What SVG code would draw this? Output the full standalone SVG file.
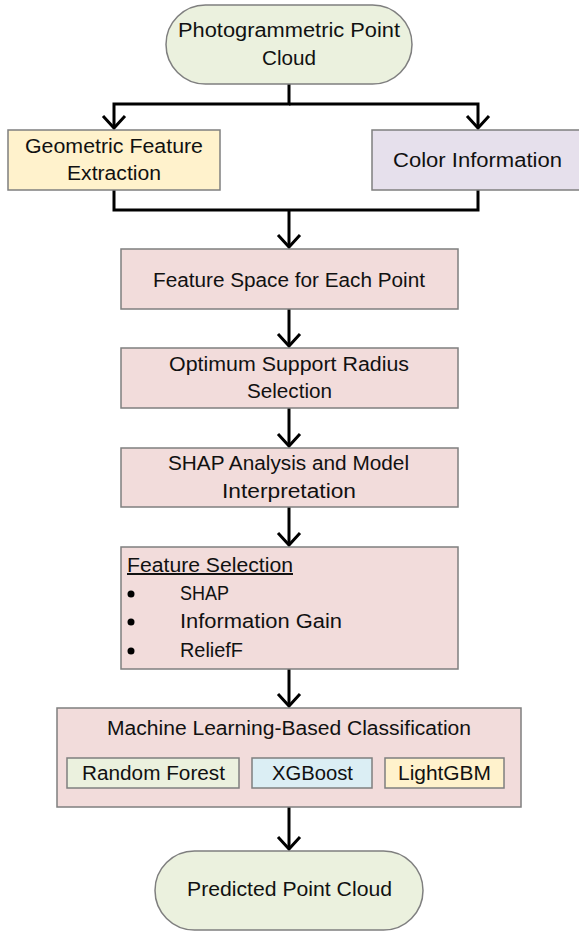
<svg xmlns="http://www.w3.org/2000/svg" width="579" height="931" viewBox="0 0 579 931">
<style>
.box{stroke:#7f7f7f;stroke-width:1.5}
.term{fill:#ebf1de}
.pink{fill:#f2dcdb}
.yel{fill:#fff2cc}
.lav{fill:#e6e0ec}
.grn{fill:#ebf1de}
.blu{fill:#dbeef4}
text{font-family:"Liberation Sans",Arial,sans-serif;font-size:20px;fill:#111}
.conn{fill:none;stroke:#000;stroke-width:3}
</style>
<defs>
<marker id="arr" markerUnits="userSpaceOnUse" markerWidth="30" markerHeight="30" viewBox="-15 -15 30 30" refX="0" refY="0" orient="auto" overflow="visible">
<path d="M-12,-11 L0,0 L-12,11" fill="none" stroke="#000" stroke-width="3"/>
</marker>
</defs>
<g id="connectors">
<path class="conn" d="M289,84 V104 H114 V128" marker-end="url(#arr)"/>
<path class="conn" d="M289,104 H478 V128" marker-end="url(#arr)"/>
<path class="conn" d="M114,190 V210 H478 V190"/>
<path class="conn" d="M289,210 V247" marker-end="url(#arr)"/>
<path class="conn" d="M289,309 V346" marker-end="url(#arr)"/>
<path class="conn" d="M289,408 V446" marker-end="url(#arr)"/>
<path class="conn" d="M289,507 V545" marker-end="url(#arr)"/>
<path class="conn" d="M289,669 V706" marker-end="url(#arr)"/>
<path class="conn" d="M289,807 V849" marker-end="url(#arr)"/>
</g>
<g id="start">
<rect class="box term" x="166" y="5" width="246" height="79" rx="39.5"/>
<text x="178" y="37" textLength="222" lengthAdjust="spacingAndGlyphs">Photogrammetric Point</text>
<text x="262" y="65" textLength="54" lengthAdjust="spacingAndGlyphs">Cloud</text>
</g>
<g id="geometric">
<rect class="box yel" x="8" y="130" width="212" height="60"/>
<text x="25" y="153" textLength="178" lengthAdjust="spacingAndGlyphs">Geometric Feature</text>
<text x="67" y="180" textLength="94" lengthAdjust="spacingAndGlyphs">Extraction</text>
</g>
<g id="color">
<rect class="box lav" x="372" y="130" width="215" height="60"/>
<text x="393" y="167" textLength="169" lengthAdjust="spacingAndGlyphs">Color Information</text>
</g>
<g id="featurespace">
<rect class="box pink" x="121" y="249" width="337" height="60"/>
<text x="153" y="287" textLength="272" lengthAdjust="spacingAndGlyphs">Feature Space for Each Point</text>
</g>
<g id="radius">
<rect class="box pink" x="121" y="348" width="337" height="60"/>
<text x="169" y="371" textLength="240" lengthAdjust="spacingAndGlyphs">Optimum Support Radius</text>
<text x="247" y="398" textLength="85" lengthAdjust="spacingAndGlyphs">Selection</text>
</g>
<g id="shap">
<rect class="box pink" x="121" y="448" width="337" height="59"/>
<text x="168" y="470" textLength="241" lengthAdjust="spacingAndGlyphs">SHAP Analysis and Model</text>
<text x="222" y="498" textLength="134" lengthAdjust="spacingAndGlyphs">Interpretation</text>
</g>
<g id="featureselection">
<rect class="box pink" x="121" y="547" width="337" height="122"/>
<text x="127" y="572" textLength="166" lengthAdjust="spacingAndGlyphs" text-decoration="underline">Feature Selection</text>
<circle cx="131" cy="594" r="3.5" fill="#000"/>
<circle cx="131" cy="622" r="3.5" fill="#000"/>
<circle cx="131" cy="651" r="3.5" fill="#000"/>
<text x="180" y="600" textLength="49" lengthAdjust="spacingAndGlyphs">SHAP</text>
<text x="180" y="628" textLength="162" lengthAdjust="spacingAndGlyphs">Information Gain</text>
<text x="180" y="657" textLength="63" lengthAdjust="spacingAndGlyphs">ReliefF</text>
</g>
<g id="classification">
<rect class="box pink" x="57" y="708" width="464" height="99"/>
<text x="107" y="735" textLength="364" lengthAdjust="spacingAndGlyphs">Machine Learning-Based Classification</text>
<g id="rf">
<rect class="box grn" x="67" y="758" width="172" height="30"/>
<text x="82" y="780" textLength="143" lengthAdjust="spacingAndGlyphs">Random Forest</text>
</g>
<g id="xgb">
<rect class="box blu" x="252" y="758" width="120" height="30"/>
<text x="272" y="780" textLength="81" lengthAdjust="spacingAndGlyphs">XGBoost</text>
</g>
<g id="lgbm">
<rect class="box yel" x="385" y="758" width="119" height="30"/>
<text x="398" y="780" textLength="93" lengthAdjust="spacingAndGlyphs">LightGBM</text>
</g>
</g>
<g id="end">
<rect class="box term" x="155" y="851" width="268" height="79" rx="39.5"/>
<text x="187" y="896" textLength="205" lengthAdjust="spacingAndGlyphs">Predicted Point Cloud</text>
</g>
</svg>
